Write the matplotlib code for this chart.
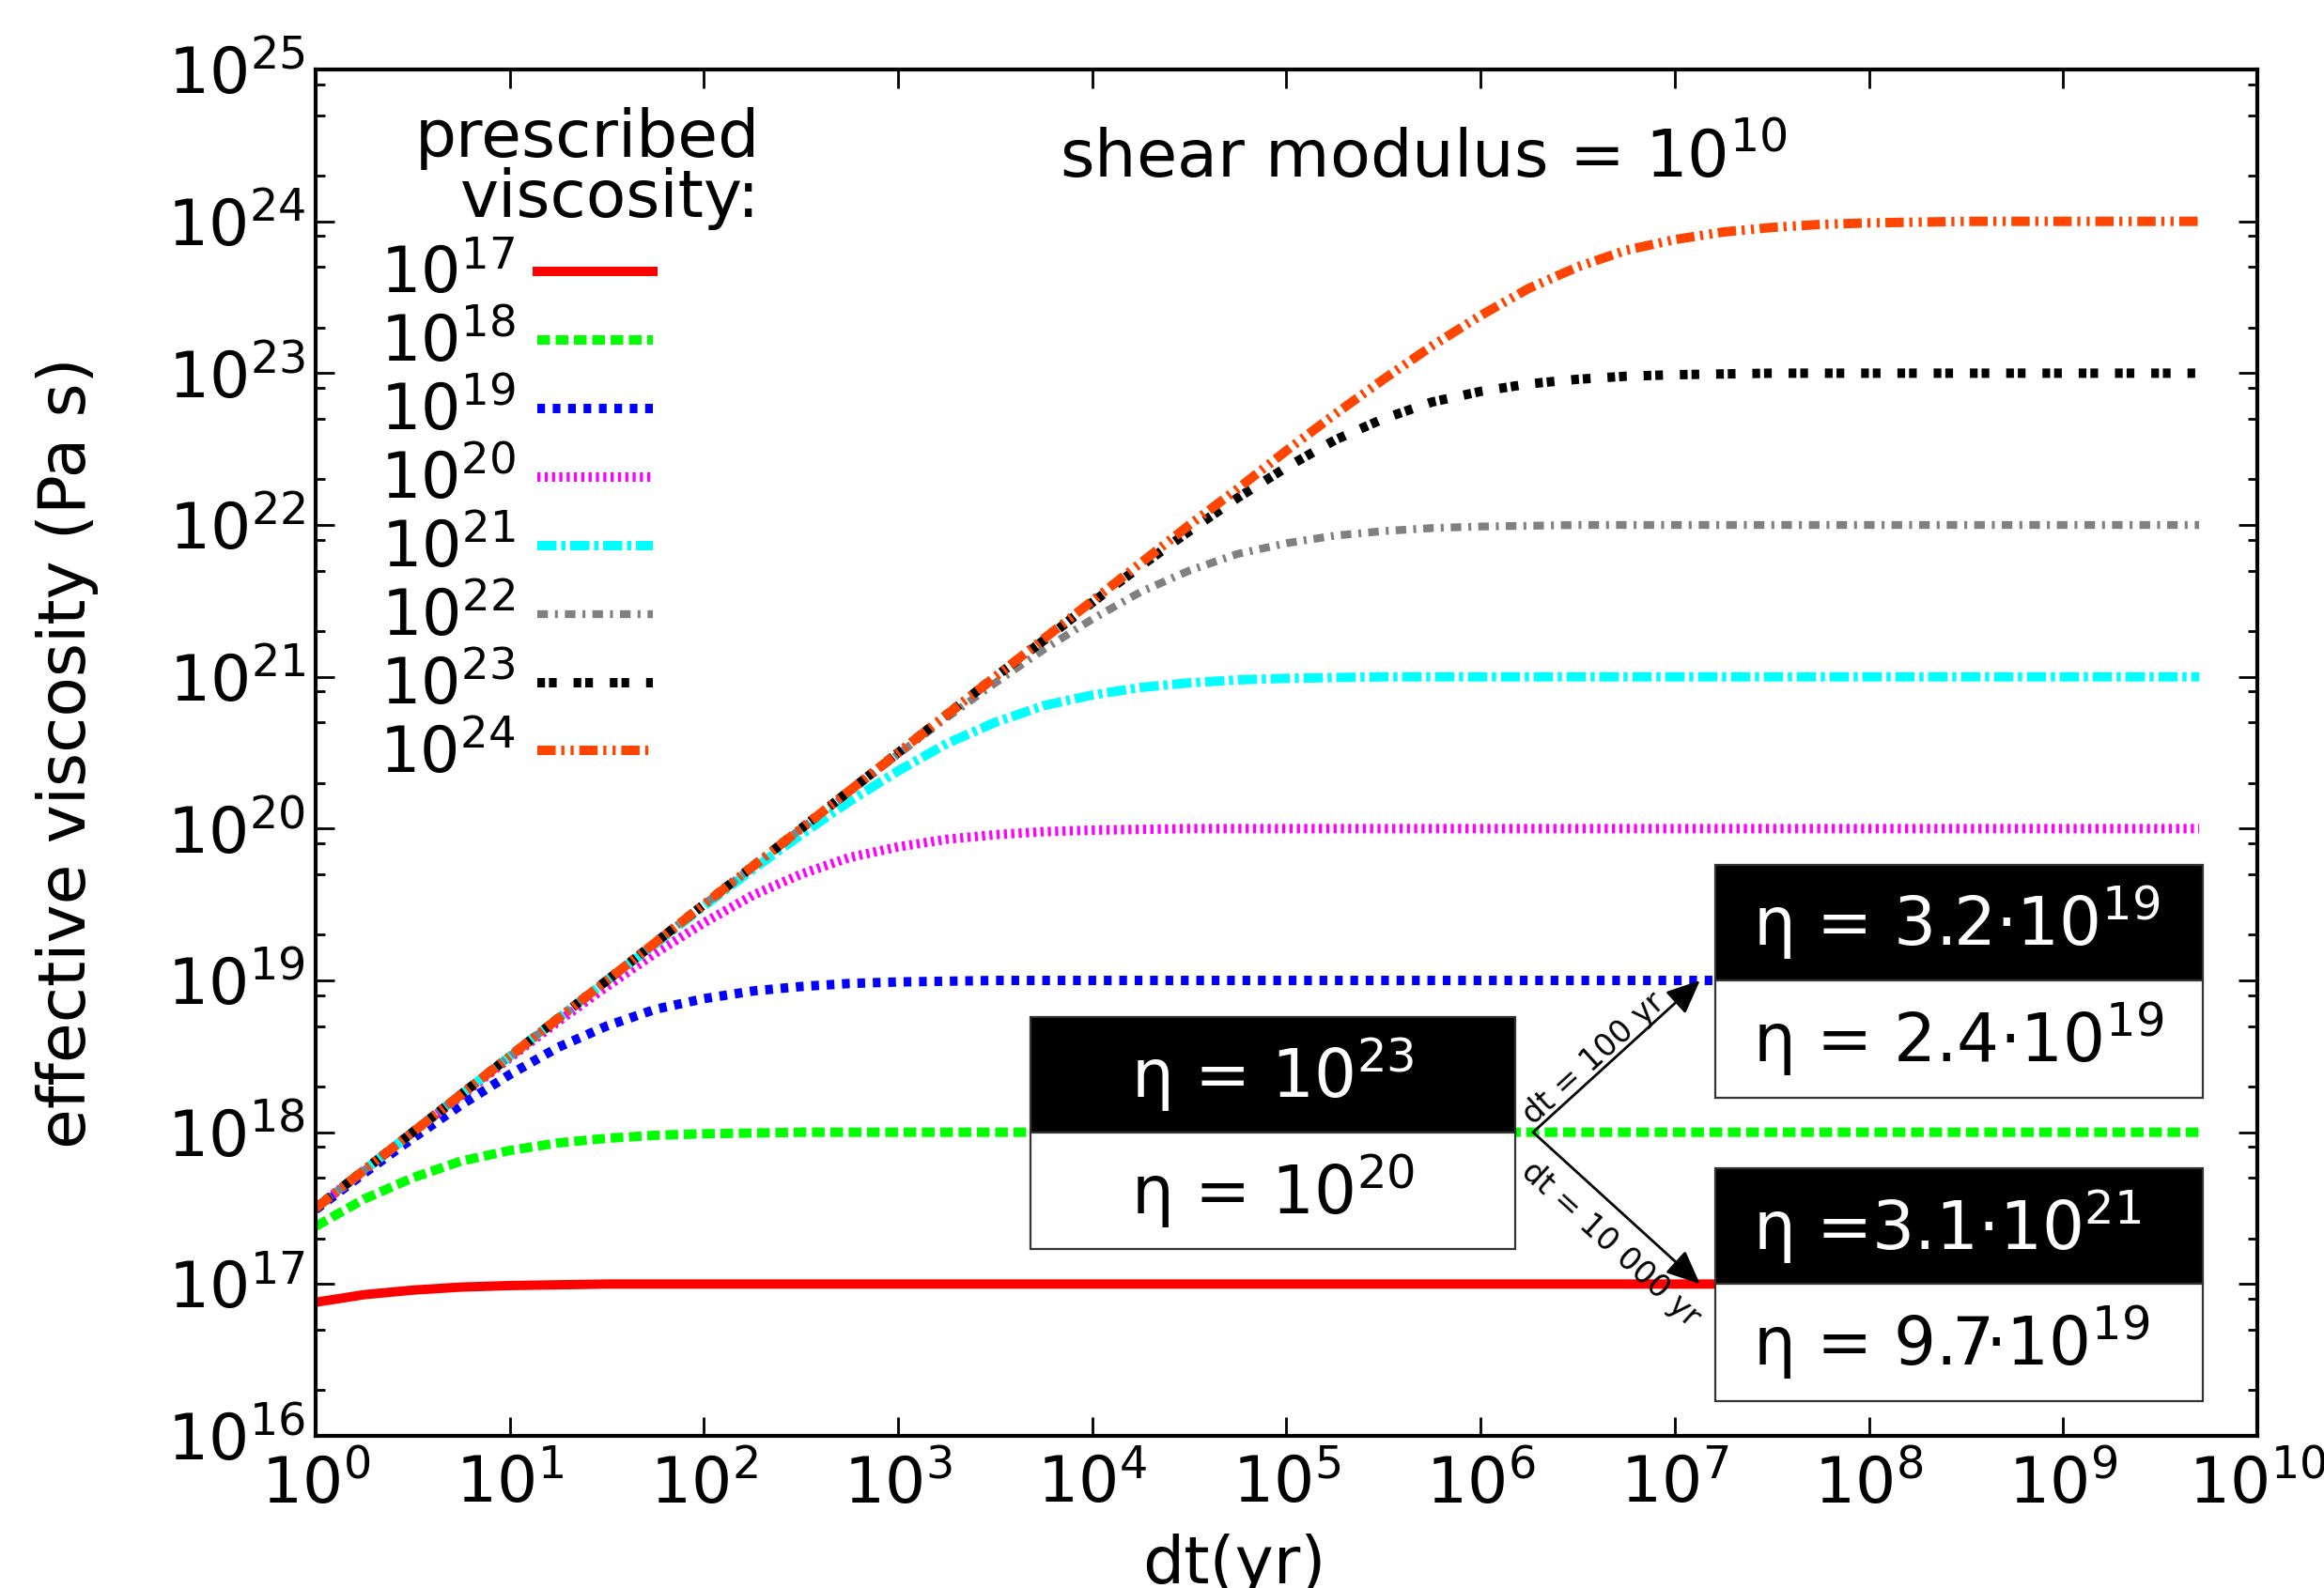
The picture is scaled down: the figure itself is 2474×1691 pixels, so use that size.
import numpy as np
import matplotlib
matplotlib.use('Agg')
import matplotlib.pyplot as plt
from matplotlib.ticker import LogLocator, NullLocator
from matplotlib.patches import Rectangle

# ---------------- data ----------------
# log10 of time step dt (yr)
log_dt = [0.0, 0.25, 0.5, 0.75, 1.0, 1.25, 1.5, 1.75, 2.0, 2.25,
          2.5, 2.75, 3.0, 3.25, 3.5, 3.75, 4.0, 4.25, 4.5, 4.75,
          5.0, 5.25, 5.5, 5.75, 6.0, 6.25, 6.5, 6.75, 7.0, 7.25,
          7.5, 7.75, 8.0, 8.25, 8.5, 8.75, 9.0, 9.25, 9.5, 9.7]

# log10 of effective viscosity (Pa s) for each prescribed viscosity
eff_1e17 = [16.88, 16.93, 16.96, 16.98, 16.99, 16.995, 17.00, 17.00, 17.00, 17.00,
            17.00, 17.00, 17.00, 17.00, 17.00, 17.00, 17.00, 17.00, 17.00, 17.00,
            17.00, 17.00, 17.00, 17.00, 17.00, 17.00, 17.00, 17.00, 17.00, 17.00,
            17.00, 17.00, 17.00, 17.00, 17.00, 17.00, 17.00, 17.00, 17.00, 17.00]
eff_1e18 = [17.38, 17.56, 17.70, 17.81, 17.88, 17.93, 17.96, 17.98, 17.99, 17.995,
            18.00, 18.00, 18.00, 18.00, 18.00, 18.00, 18.00, 18.00, 18.00, 18.00,
            18.00, 18.00, 18.00, 18.00, 18.00, 18.00, 18.00, 18.00, 18.00, 18.00,
            18.00, 18.00, 18.00, 18.00, 18.00, 18.00, 18.00, 18.00, 18.00, 18.00]
eff_1e19 = [17.49, 17.73, 17.96, 18.18, 18.38, 18.56, 18.70, 18.81, 18.88, 18.93,
            18.96, 18.98, 18.99, 18.995, 19.00, 19.00, 19.00, 19.00, 19.00, 19.00,
            19.00, 19.00, 19.00, 19.00, 19.00, 19.00, 19.00, 19.00, 19.00, 19.00,
            19.00, 19.00, 19.00, 19.00, 19.00, 19.00, 19.00, 19.00, 19.00, 19.00]
eff_1e20 = [17.50, 17.75, 18.00, 18.24, 18.49, 18.73, 18.96, 19.18, 19.38, 19.56,
            19.70, 19.81, 19.88, 19.93, 19.96, 19.98, 19.99, 19.995, 20.00, 20.00,
            20.00, 20.00, 20.00, 20.00, 20.00, 20.00, 20.00, 20.00, 20.00, 20.00,
            20.00, 20.00, 20.00, 20.00, 20.00, 20.00, 20.00, 20.00, 20.00, 20.00]
eff_1e21 = [17.50, 17.75, 18.00, 18.25, 18.50, 18.75, 19.00, 19.24, 19.49, 19.73,
            19.96, 20.18, 20.38, 20.56, 20.70, 20.81, 20.88, 20.93, 20.96, 20.98,
            20.99, 20.995, 21.00, 21.00, 21.00, 21.00, 21.00, 21.00, 21.00, 21.00,
            21.00, 21.00, 21.00, 21.00, 21.00, 21.00, 21.00, 21.00, 21.00, 21.00]
eff_1e22 = [17.50, 17.75, 18.00, 18.25, 18.50, 18.75, 19.00, 19.25, 19.50, 19.75,
            20.00, 20.24, 20.49, 20.73, 20.96, 21.18, 21.38, 21.56, 21.70, 21.81,
            21.88, 21.93, 21.96, 21.98, 21.99, 21.995, 22.00, 22.00, 22.00, 22.00,
            22.00, 22.00, 22.00, 22.00, 22.00, 22.00, 22.00, 22.00, 22.00, 22.00]
eff_1e23 = [17.50, 17.75, 18.00, 18.25, 18.50, 18.75, 19.00, 19.25, 19.50, 19.75,
            20.00, 20.25, 20.50, 20.75, 21.00, 21.24, 21.49, 21.73, 21.96, 22.18,
            22.38, 22.56, 22.70, 22.81, 22.88, 22.93, 22.96, 22.98, 22.99, 22.995,
            23.00, 23.00, 23.00, 23.00, 23.00, 23.00, 23.00, 23.00, 23.00, 23.00]
eff_1e24 = [17.50, 17.75, 18.00, 18.25, 18.50, 18.75, 19.00, 19.25, 19.50, 19.75,
            20.00, 20.25, 20.50, 20.75, 21.00, 21.25, 21.50, 21.75, 22.00, 22.24,
            22.49, 22.73, 22.96, 23.18, 23.38, 23.56, 23.70, 23.81, 23.88, 23.93,
            23.96, 23.98, 23.99, 23.995, 24.00, 24.00, 24.00, 24.00, 24.00, 24.00]

series = [eff_1e17, eff_1e18, eff_1e19, eff_1e20, eff_1e21, eff_1e22, eff_1e23, eff_1e24]
labels = [r'$10^{17}$', r'$10^{18}$', r'$10^{19}$', r'$10^{20}$',
          r'$10^{21}$', r'$10^{22}$', r'$10^{23}$', r'$10^{24}$']

# annotation boxes: (x0, x1, split level) in log10 units, with texts
box_x0 = [3.68, 7.21, 7.21]
box_x1 = [6.18, 9.72, 9.72]
box_split = [18.0, 19.0, 17.0]
box_top_text = ['η = $10^{23}$', 'η = 3.2·$10^{19}$', 'η =3.1·$10^{21}$']
box_bottom_text = ['η = $10^{20}$', 'η = 2.4·$10^{19}$', 'η = 9.7·$10^{19}$']

# ---------------- styles ----------------
colors = ['#ff0000', '#00ff00', '#0000ff', '#ff00ff', '#00ffff', '#808080', '#000000', '#ff4500']
linestyles = ['-',
              (0, (1.35, 0.6)),
              (0, (0.82, 0.82)),
              (0, (0.33, 0.45)),
              (0, (2.05, 0.5, 0.45, 0.5)),
              (0, (1.35, 0.9, 0.37, 0.9)),
              (0, (0.82, 0.42, 0.82, 1.8)),
              (0, (1.95, 0.6, 0.33, 0.66, 0.33, 0.6))]
linewidths = [3.6, 3.6, 3.6, 3.6, 3.6, 3.0, 3.6, 3.6]

plt.rcParams['font.family'] = ['DejaVu Sans']
plt.rcParams['mathtext.fontset'] = 'dejavusans'
plt.rcParams['mathtext.default'] = 'regular'

fig = plt.figure(figsize=(12.37, 8.455), dpi=200)
ax = fig.add_axes([0.1358, 0.0958, 0.8355, 0.8604])

dt = np.power(10.0, log_dt)
for vals, lab, c, ls, lw in zip(series, labels, colors, linestyles, linewidths):
    ax.plot(dt, np.power(10.0, vals), color=c, linestyle=ls, linewidth=lw, label=lab)

ax.set_xscale('log')
ax.set_yscale('log')
ax.set_xlim(1e0, 1e10)
ax.set_ylim(1e16, 1e25)
ax.xaxis.set_major_locator(LogLocator(base=10, numticks=20))
ax.xaxis.set_minor_locator(NullLocator())
ax.yaxis.set_major_locator(LogLocator(base=10, numticks=20))
ax.yaxis.set_minor_locator(LogLocator(base=10, subs=(2.0, 5.0, 8.0), numticks=40))

ax.tick_params(which='both', direction='in', top=True, right=True)
ax.tick_params(which='major', length=7.2, width=1.0, labelsize=24.5)
ax.tick_params(which='minor', length=3.6, width=1.0)
ax.tick_params(axis='x', which='major', pad=7)
ax.tick_params(axis='y', which='major', pad=4)
for sp in ax.spines.values():
    sp.set_linewidth(1.5)

ax.set_xlabel('dt(yr)', fontsize=25, va='top')
ax.xaxis.set_label_coords(0.473, -0.0715)
ax.set_ylabel('effective viscosity (Pa s)', fontsize=25, va='center')
ax.yaxis.set_label_coords(-0.128, 0.5)

# legend
leg = ax.legend(loc='upper left', bbox_to_anchor=(0.033, 0.872), frameon=False,
                fontsize=24, markerfirst=False, handlelength=1.85, handletextpad=0.35,
                labelspacing=0.095, borderpad=0, borderaxespad=0)
ax.text(0.229, 0.9725, 'prescribed\nviscosity:', transform=ax.transAxes,
        ha='right', va='top', multialignment='right', fontsize=25, linespacing=0.95)

ax.text(0.383, 0.921, r'shear modulus = $10^{10}$', transform=ax.transAxes,
        ha='left', va='baseline', fontsize=25.3)

# boxes
half_up, half_dn = 0.76, 0.77
for i, (x0, x1, ys, tt, bt) in enumerate(zip(box_x0, box_x1, box_split, box_top_text, box_bottom_text)):
    X0, X1 = 10 ** x0, 10 ** x1
    ax.add_patch(Rectangle((X0, 10 ** ys), X1 - X0, 10 ** (ys + half_up) - 10 ** ys,
                           facecolor='black', edgecolor='#333333', linewidth=0.8, zorder=5))
    ax.add_patch(Rectangle((X0, 10 ** (ys - half_dn)), X1 - X0, 10 ** ys - 10 ** (ys - half_dn),
                           facecolor='white', edgecolor='#333333', linewidth=0.8, zorder=5))
    if i == 0:
        tx, ha = 10 ** ((x0 + x1) / 2), 'center'
    else:
        tx, ha = 10 ** (x0 + 0.19), 'left'
    ax.text(tx, 10 ** (ys + half_up / 2), tt, color='white', ha=ha, va='center',
            fontsize=25.5, zorder=6)
    ax.text(tx, 10 ** (ys - half_dn / 2), bt, color='black', ha=ha, va='center',
            fontsize=25.5, zorder=6)

# arrows
arr_start = (10 ** 6.27, 10 ** 18.0)
for yend in (10 ** 19.0, 10 ** 17.0):
    ax.annotate('', xy=(10 ** 7.13, yend), xytext=arr_start,
                arrowprops=dict(arrowstyle='-|>,head_length=0.5,head_width=0.22',
                                color='black', lw=1.0, mutation_scale=22,
                                shrinkA=0, shrinkB=0), zorder=7)
ax.text(10 ** 6.585, 10 ** 18.487, 'dt = 100 yr', rotation=42.3, rotation_mode='anchor',
        ha='center', va='center', fontsize=12, zorder=7)
ax.text(10 ** 6.67, 10 ** 17.26, 'dt = 10 000 yr', rotation=-42.3, rotation_mode='anchor',
        ha='center', va='center', fontsize=12, zorder=7)

fig.savefig('out.png', dpi=200)
